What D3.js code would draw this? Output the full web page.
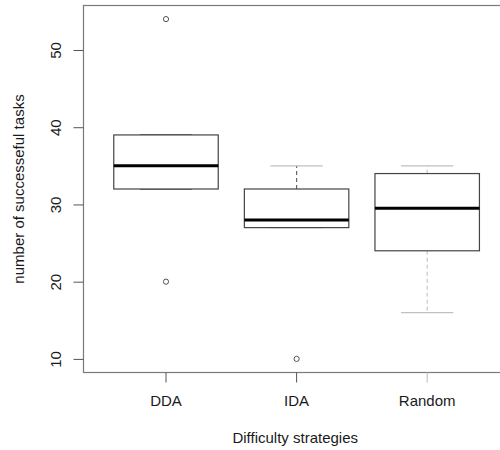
<!DOCTYPE html>
<html>
<head>
<meta charset="utf-8">
<script src="https://cdn.jsdelivr.net/npm/d3@7"></script>
<style>
  html, body { margin: 0; padding: 0; background: #fff; }
  svg { display: block; }
  text { font-family: "Liberation Sans", Arial, sans-serif; fill: #1a1a1a; }
</style>
</head>
<body>
<svg id="chart" width="500" height="450"></svg>
<script>
const categories = ["DDA", "IDA", "Random"];
const lowerQuartile = [32, 27, 24];
const medians = [35, 28, 29.5];
const upperQuartile = [39, 32, 34];
const whiskerLow = [32, 27, 16];
const whiskerHigh = [39, 35, 35];
const outliers = [[54, 20], [10], []];
const yTicks = [10, 20, 30, 40, 50];
const xTitle = "Difficulty strategies";
const yTitle = "number of successeful tasks";

const whiskerColors = ["#555", "#666", "#c8c8c8"];

const svg = d3.select("#chart");
const plot = { left: 83.5, right: 507, top: 5.5, bottom: 372.5 };

const y = d3.scaleLinear().domain([8.24, 55.76]).range([plot.bottom, plot.top]);
const x = d3.scaleBand().domain(categories)
  .range([100.7, 492.5]).paddingInner(0.2).paddingOuter(0.1);

// frame
svg.append("rect")
  .attr("x", plot.left).attr("y", plot.top)
  .attr("width", plot.right - plot.left).attr("height", plot.bottom - plot.top)
  .attr("fill", "none").attr("stroke", "#7a7a7a").attr("stroke-width", 1.2);

// y axis
const yAxis = d3.axisLeft(y).tickValues(yTicks).tickSize(10).tickPadding(0).tickFormat(d3.format("d"));
const gy = svg.append("g").attr("transform", `translate(${plot.left},0)`).call(yAxis);
gy.select(".domain").remove();
gy.selectAll(".tick line").attr("stroke", "#555");
gy.selectAll(".tick text")
  .attr("transform", "rotate(-90)")
  .attr("x", 0).attr("y", -23).attr("dy", 0)
  .attr("text-anchor", "middle")
  .style("font-size", "15px");

// x axis
const xAxis = d3.axisBottom(x).tickSize(10).tickPadding(0);
const gx = svg.append("g").attr("transform", `translate(0,${plot.bottom})`).call(xAxis);
gx.select(".domain").remove();
gx.selectAll(".tick line").attr("stroke", (d, i) => i === 2 ? "#bbb" : "#555");
gx.selectAll(".tick text").attr("y", 33).attr("dy", 0).style("font-size", "15px");

// titles
svg.append("text").attr("x", (plot.left + plot.right) / 2).attr("y", 443)
  .attr("text-anchor", "middle").style("font-size", "15px").text(xTitle);
svg.append("text")
  .attr("transform", `translate(24,${(plot.top + plot.bottom) / 2}) rotate(-90)`)
  .attr("text-anchor", "middle").style("font-size", "15px").text(yTitle);

// boxes
const bw = x.bandwidth();
categories.forEach((c, i) => {
  const cx = x(c) + bw / 2;
  const g = svg.append("g");
  // whiskers
  g.append("line").attr("x1", cx).attr("x2", cx)
    .attr("y1", y(upperQuartile[i])).attr("y2", y(whiskerHigh[i]))
    .attr("stroke", whiskerColors[i]).attr("stroke-width", 1.2).attr("stroke-dasharray", "4,3");
  g.append("line").attr("x1", cx).attr("x2", cx)
    .attr("y1", y(lowerQuartile[i])).attr("y2", y(whiskerLow[i]))
    .attr("stroke", whiskerColors[i]).attr("stroke-width", 1.2).attr("stroke-dasharray", "4,3");
  // caps
  [whiskerHigh[i], whiskerLow[i]].forEach(v => {
    g.append("line").attr("x1", cx - bw / 4).attr("x2", cx + bw / 4)
      .attr("y1", y(v)).attr("y2", y(v))
      .attr("stroke", i === 0 ? "#555" : "#c0c0c0").attr("stroke-width", 1.3);
  });
  // box
  g.append("rect").attr("x", x(c)).attr("width", bw)
    .attr("y", y(upperQuartile[i])).attr("height", y(lowerQuartile[i]) - y(upperQuartile[i]))
    .attr("fill", "#fff").attr("stroke", "#444").attr("stroke-width", 1.2);
  // median
  g.append("line").attr("x1", x(c)).attr("x2", x(c) + bw)
    .attr("y1", y(medians[i])).attr("y2", y(medians[i]))
    .attr("stroke", "#000").attr("stroke-width", 3);
  // outliers
  outliers[i].forEach(v => {
    g.append("circle").attr("cx", cx).attr("cy", y(v)).attr("r", 2.6)
      .attr("fill", "none").attr("stroke", "#555").attr("stroke-width", 1);
  });
});
</script>
</body>
</html>
